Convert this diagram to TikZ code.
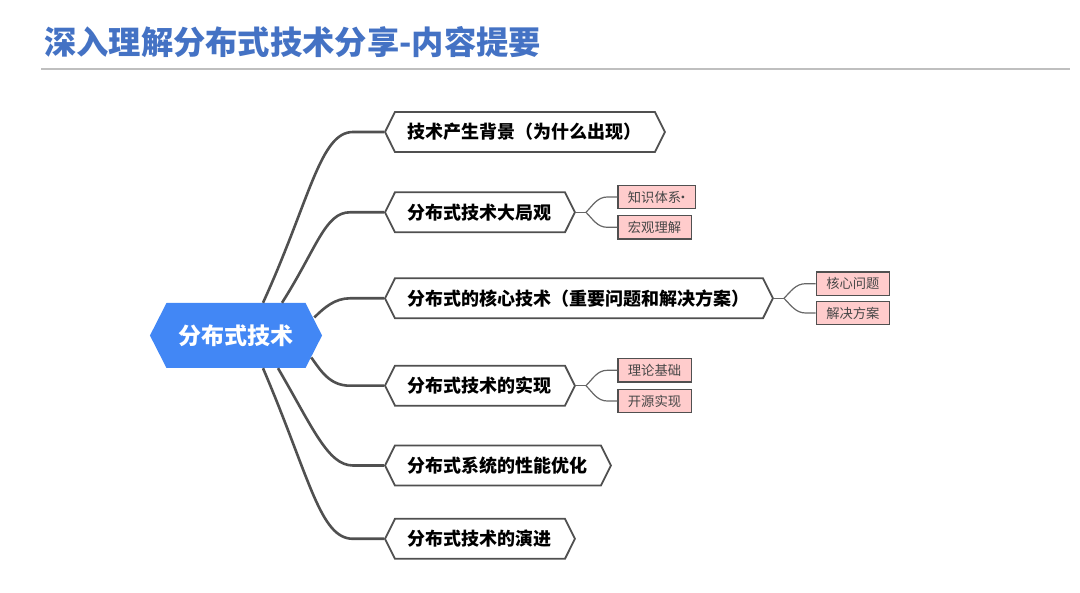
\documentclass[tikz,border=0pt]{standalone}
\usepackage{fontspec}
\setmainfont{Noto Sans CJK SC}
\usetikzlibrary{shapes.symbols,positioning,calc}
\definecolor{titleblue}{RGB}{68,114,196}
\definecolor{rootblue}{RGB}{66,135,245}
\definecolor{linegray}{RGB}{80,80,80}
\definecolor{subpink}{RGB}{255,204,204}

\begin{document}
\begin{tikzpicture}[x=1pt,y=-1pt,
  root/.style={signal,signal to=east and west,signal pointer angle=126,
    fill=rootblue,text=white,font=\bfseries\fontsize{23}{23}\selectfont,
    minimum height=65pt,inner xsep=12pt},
  topic/.style={signal,signal to=east and west,signal pointer angle=127,
    draw=linegray,line width=1.8pt,fill=white,anchor=west,
    font=\bfseries\fontsize{18}{18}\selectfont,minimum height=40pt,inner xsep=13pt},
  leaf/.style={rectangle,draw=linegray,line width=1.2pt,fill=subpink,
    text=black!72,font=\fontsize{13.3}{13.3}\selectfont,anchor=west,
    minimum height=23.5pt,inner xsep=10pt},
  branch/.style={linegray,line width=2.6pt},
  twig/.style={black!60,line width=1.2pt}
]
\useasboundingbox (0,0) rectangle (1080,593);

% 标题
\node[anchor=west,inner sep=0,text=titleblue,font=\bfseries\fontsize{32.3}{32.3}\selectfont]
  (title) at (44,42) {深入理解分布式技术分享-内容提要};
\draw[black!25,line width=2pt] (41,69.5) -- (1070,69.5);

% 中心主题
\node[root] (root) at (236,335.5) {分布式技术};

% 分支主题
\node[topic] (t1) at (384,132)   {技术产生背景（为什么出现）};
\node[topic] (t2) at (384,212.3) {分布式技术大局观};
\node[topic] (t3) at (384,298.3) {分布式的核心技术（重要问题和解决方案）};
\node[topic] (t4) at (384,385.7) {分布式技术的实现};
\node[topic] (t5) at (384,465.5) {分布式系统的性能优化};
\node[topic] (t6) at (384,538.8) {分布式技术的演进};

\draw[branch] ($(root.north)+(27,0)$) .. controls +(47,-103) and +(-33,0) .. ($(t1.west)+(-31,0)$) -- (t1.west);
\draw[branch] ($(root.north)+(46,0)$) .. controls +(35,-55) and +(-25,0) .. ($(t2.west)+(-34,0)$) -- (t2.west);
\draw[branch] ($(root.east)+(-8,-18)$) .. controls +(10,-10) and +(-15,0) .. ($(t3.west)+(-34,0)$) -- (t3.west);
\draw[branch] ($(root.east)+(-11,22)$) .. controls +(10,14) and +(-20,0) .. ($(t4.west)+(-34,0)$) -- (t4.west);
\draw[branch] ($(root.south)+(42,0)$) .. controls +(35,60) and +(-25,0) .. ($(t5.west)+(-31,0)$) -- (t5.west);
\draw[branch] ($(root.south)+(27,0)$) .. controls +(47,110) and +(-33,0) .. ($(t6.west)+(-31,0)$) -- (t6.west);

% 子主题
\node[leaf] (l1) at (617.3,197)   {知识体系\makebox[4pt][c]{·}};
\node[leaf] (l2) at (617.3,227.3) {宏观理解};
\node[leaf] (l3) at (815.7,283.7) {核心问题};
\node[leaf] (l4) at (815.7,313)   {解决方案};
\node[leaf] (l5) at (617.3,370.3) {理论基础};
\node[leaf] (l6) at (617.3,401)   {开源实现};

\coordinate (j2) at ($(t2.east)+(10,0)$);
\coordinate (j3) at ($(t3.east)+(10,0)$);
\coordinate (j4) at ($(t4.east)+(10,0)$);
\draw[twig] (t2.east) -- (j2);
\draw[twig] (t3.east) -- (j3);
\draw[twig] (t4.east) -- (j4);
\draw[twig] (j2) .. controls +(7,-7) and +(-10,0) .. ($(l1.west)+(-10,0)$) -- (l1.west);
\draw[twig] (j2) .. controls +(7,7) and +(-10,0) .. ($(l2.west)+(-10,0)$) -- (l2.west);
\draw[twig] (j3) .. controls +(7,-7) and +(-10,0) .. ($(l3.west)+(-10,0)$) -- (l3.west);
\draw[twig] (j3) .. controls +(7,7) and +(-10,0) .. ($(l4.west)+(-10,0)$) -- (l4.west);
\draw[twig] (j4) .. controls +(7,-7) and +(-10,0) .. ($(l5.west)+(-10,0)$) -- (l5.west);
\draw[twig] (j4) .. controls +(7,7) and +(-10,0) .. ($(l6.west)+(-10,0)$) -- (l6.west);
\end{tikzpicture}
\end{document}
